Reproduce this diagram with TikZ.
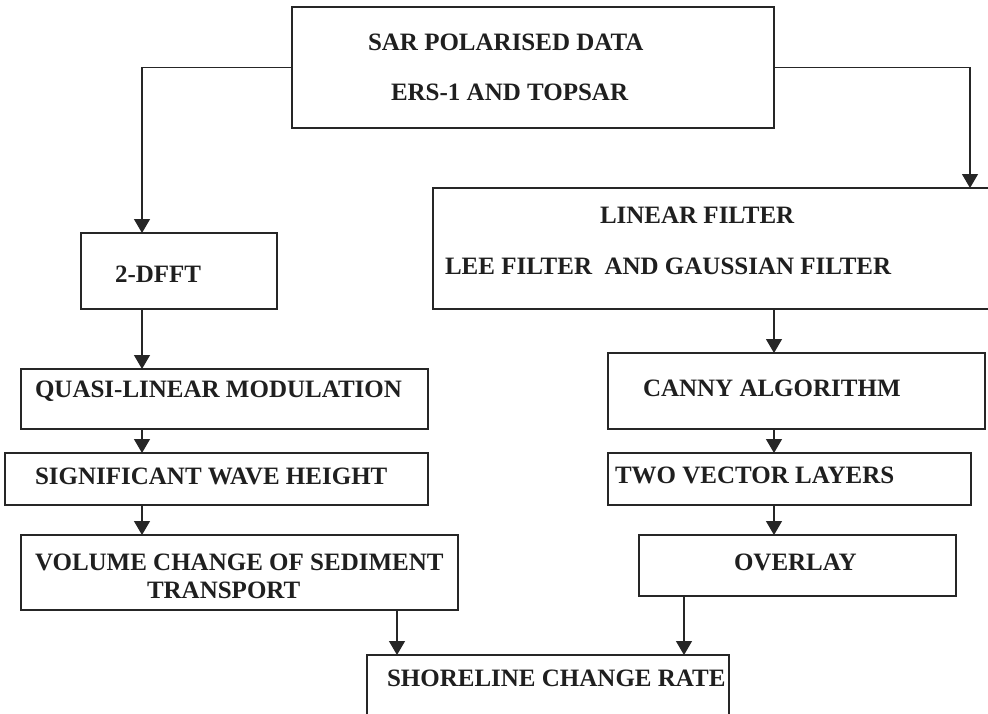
\documentclass[tikz,border=0pt]{standalone}
\usepackage{fontspec}
\setmainfont{Liberation Serif}
\usetikzlibrary{arrows.meta}
\begin{document}
\begin{tikzpicture}[x=1pt,y=-1pt,
  box/.style={draw=black!85, line width=1.2pt, rectangle, inner sep=0pt, outer sep=0pt},
  txt/.style={anchor=base west, inner sep=0pt, outer sep=0pt, text=black!88,
    font=\fontsize{25}{30}\selectfont\bfseries},
  arr/.style={draw=black!85, line width=1.2pt, -{Triangle[length=14pt,width=16pt]}}]
\useasboundingbox (0,0) rectangle (988,713);
\clip (0,0) rectangle (988,713);
\fill[white] (0,0) rectangle (988,713);
% boxes
\node[box, minimum width=482pt, minimum height=121pt] (top) at (533,67.5) {};
\node[box, minimum width=196pt, minimum height=76pt] (dfft) at (179,271) {};
\node[box, minimum width=562pt, minimum height=121pt] (lin) at (714,248.5) {};
\node[box, minimum width=407pt, minimum height=60pt] (qlm) at (224.5,399) {};
\node[box, minimum width=377pt, minimum height=76pt] (canny) at (796.5,391) {};
\node[box, minimum width=423pt, minimum height=52pt] (sig) at (216.5,479) {};
\node[box, minimum width=363pt, minimum height=52pt] (tvl) at (789.5,479) {};
\node[box, minimum width=437pt, minimum height=75pt] (vol) at (239.5,572.5) {};
\node[box, minimum width=317pt, minimum height=61pt] (ovl) at (797.5,565.5) {};
\node[box, minimum width=362pt, minimum height=75pt] (shore) at (548,692.5) {};
% texts
\node[txt] (t1) at (368,50) {SAR POLARISED DATA};
\node[txt] (t2) at (391,100) {ERS-1 AND TOPSAR};
\node[txt] (t3) at (600,223) {LINEAR FILTER};
\node[txt] (t4) at (445,274) {LEE FILTER\ \ AND GAUSSIAN FILTER};
\node[txt] (t5) at (115,282) {2-DFFT};
\node[txt] (t6) at (35,397) {QUASI-LINEAR MODULATION};
\node[txt] (t7) at (643,396) {CANNY ALGORITHM};
\node[txt] (t8) at (35,484) {SIGNIFICANT WAVE HEIGHT};
\node[txt] (t9) at (615,483) {TWO VECTOR LAYERS};
\node[txt] (t10) at (35,570) {VOLUME CHANGE OF SEDIMENT};
\node[txt] (t11) at (147,598) {TRANSPORT};
\node[txt] (t12) at (734,570) {OVERLAY};
\node[txt] (t13) at (387,686) {SHORELINE CHANGE RATE};
% connector columns
\coordinate (lx) at (142,0);
\coordinate (rx) at (774,0);
\coordinate (rx2) at (970,0);
\coordinate (vx) at (397,0);
\coordinate (ox) at (684,0);
% connectors
\draw[arr] (top.west) -| (lx |- dfft.north);
\draw[arr] (top.east) -| (rx2 |- lin.north);
\draw[arr] (lx |- dfft.south) -- (lx |- qlm.north);
\draw[arr] (lx |- qlm.south) -- (lx |- sig.north);
\draw[arr] (lx |- sig.south) -- (lx |- vol.north);
\draw[arr] (rx |- lin.south) -- (rx |- canny.north);
\draw[arr] (rx |- canny.south) -- (rx |- tvl.north);
\draw[arr] (rx |- tvl.south) -- (rx |- ovl.north);
\draw[arr] (vx |- vol.south) -- (vx |- shore.north);
\draw[arr] (ox |- ovl.south) -- (ox |- shore.north);
\end{tikzpicture}
\end{document}
